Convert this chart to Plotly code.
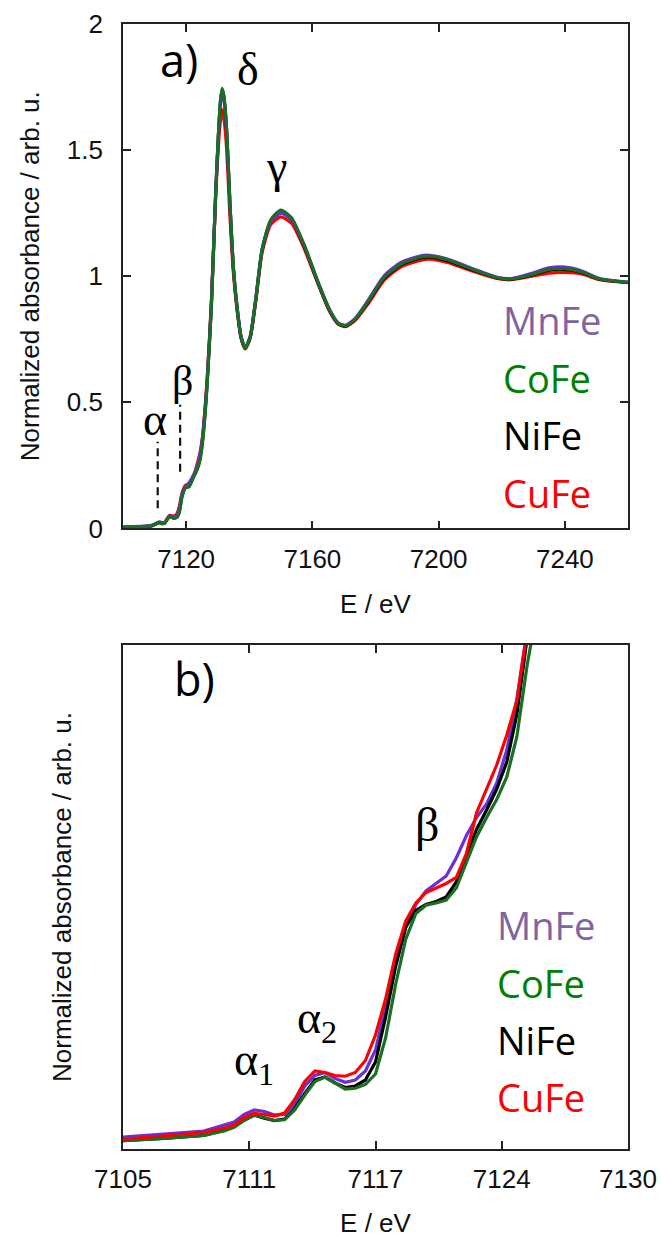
import plotly.graph_objects as go

# ---------------- data: panel a) full XANES ----------------
E_top = [7100, 7105, 7109, 7111.5, 7112.5, 7113.2, 7114.8, 7116.1, 7117.1, 7117.8,
         7118.7, 7119.7, 7120.9, 7122.2, 7123.5, 7124.4, 7125.2, 7126, 7126.7, 7128,
         7129.4, 7130.3, 7130.9, 7131.4, 7131.9, 7132.7, 7134, 7135, 7136.1, 7137.4,
         7138.7, 7140.3, 7142.1, 7144.1, 7146.8, 7150, 7153.4, 7157.4, 7161.4, 7165.4,
         7168.1, 7170.5, 7173.5, 7177.5, 7182.8, 7188.2, 7194.8, 7197, 7202.8, 7210.8,
         7218.9, 7223, 7229.6, 7235, 7240, 7245.6, 7251, 7260]

top_CoFe = [0.003, 0.006, 0.010, 0.023, 0.019, 0.021, 0.048, 0.040, 0.044, 0.060,
            0.124, 0.160, 0.165, 0.199, 0.233, 0.270, 0.340, 0.450, 0.578, 0.882,
            1.338, 1.580, 1.700, 1.745, 1.720, 1.612, 1.262, 1.030, 0.882, 0.760,
            0.715, 0.760, 0.913, 1.110, 1.224, 1.262, 1.232, 1.125, 0.989, 0.867,
            0.814, 0.803, 0.829, 0.897, 0.996, 1.049, 1.077, 1.080, 1.065, 1.027,
            0.993, 0.989, 1.007, 1.027, 1.030, 1.016, 0.989, 0.976]

top_NiFe = [0.003, 0.006, 0.010, 0.023, 0.019, 0.021, 0.048, 0.041, 0.046, 0.065,
            0.130, 0.161, 0.167, 0.202, 0.238, 0.280, 0.350, 0.460, 0.585, 0.888,
            1.340, 1.578, 1.695, 1.740, 1.715, 1.605, 1.258, 1.028, 0.880, 0.758,
            0.714, 0.758, 0.910, 1.105, 1.218, 1.255, 1.226, 1.120, 0.986, 0.865,
            0.813, 0.802, 0.828, 0.895, 0.993, 1.046, 1.074, 1.077, 1.062, 1.025,
            0.992, 0.988, 1.005, 1.024, 1.027, 1.014, 0.988, 0.975]

top_MnFe = [0.006, 0.008, 0.012, 0.026, 0.023, 0.024, 0.051, 0.045, 0.052, 0.075,
            0.136, 0.165, 0.180, 0.209, 0.244, 0.295, 0.360, 0.470, 0.590, 0.890,
            1.340, 1.575, 1.690, 1.730, 1.705, 1.598, 1.255, 1.028, 0.882, 0.762,
            0.717, 0.762, 0.915, 1.108, 1.216, 1.250, 1.224, 1.122, 0.990, 0.869,
            0.816, 0.805, 0.832, 0.902, 1.003, 1.056, 1.082, 1.083, 1.068, 1.030,
            0.995, 0.991, 1.012, 1.033, 1.036, 1.020, 0.991, 0.977]

top_CuFe = [0.004, 0.007, 0.011, 0.024, 0.022, 0.024, 0.052, 0.049, 0.059, 0.085,
            0.140, 0.170, 0.177, 0.200, 0.256, 0.300, 0.365, 0.480, 0.600, 0.900,
            1.330, 1.530, 1.620, 1.660, 1.630, 1.530, 1.210, 1.010, 0.870, 0.755,
            0.712, 0.755, 0.905, 1.095, 1.205, 1.235, 1.210, 1.110, 0.982, 0.862,
            0.811, 0.800, 0.824, 0.888, 0.985, 1.038, 1.065, 1.068, 1.055, 1.020,
            0.990, 0.986, 1.000, 1.012, 1.015, 1.008, 0.986, 0.974]

# ---------------- data: panel b) pre-edge zoom ----------------
E_bot = [7105, 7106, 7107, 7108, 7109, 7110, 7110.5, 7111, 7111.5, 7112,
         7112.5, 7113, 7113.5, 7114, 7114.5, 7115, 7115.5, 7116, 7116.5, 7117,
         7117.5, 7118, 7118.5, 7119, 7119.5, 7120, 7120.5, 7121, 7121.5, 7122,
         7122.5, 7123, 7123.5, 7124, 7124.5, 7125, 7125.5]

bot_MnFe = [0.008, 0.009, 0.0105, 0.011, 0.012, 0.016, 0.018, 0.023, 0.026, 0.025,
            0.0227, 0.023, 0.030, 0.042, 0.049, 0.051, 0.047, 0.0445, 0.046, 0.052,
            0.066, 0.095, 0.125, 0.148, 0.163, 0.172, 0.177, 0.182, 0.194, 0.209,
            0.221, 0.230, 0.244, 0.266, 0.300, 0.345, 0.390]

bot_CoFe = [0.0055, 0.006, 0.007, 0.008, 0.009, 0.012, 0.0145, 0.019, 0.0227, 0.021,
            0.019, 0.0195, 0.026, 0.036, 0.045, 0.048, 0.044, 0.040, 0.0405, 0.043,
            0.050, 0.074, 0.110, 0.140, 0.157, 0.1625, 0.164, 0.166, 0.174, 0.191,
            0.208, 0.221, 0.233, 0.248, 0.275, 0.322, 0.360]

bot_NiFe = [0.0055, 0.006, 0.007, 0.008, 0.009, 0.0125, 0.015, 0.0195, 0.0225, 0.0205,
            0.019, 0.020, 0.027, 0.037, 0.046, 0.048, 0.044, 0.041, 0.042, 0.046,
            0.058, 0.088, 0.122, 0.148, 0.159, 0.163, 0.165, 0.168, 0.178, 0.196,
            0.213, 0.226, 0.240, 0.258, 0.290, 0.340, 0.380]

bot_CuFe = [0.0065, 0.0075, 0.0085, 0.0095, 0.011, 0.014, 0.016, 0.021, 0.0238, 0.023,
            0.022, 0.024, 0.033, 0.045, 0.052, 0.051, 0.049, 0.0485, 0.051, 0.059,
            0.076, 0.100, 0.130, 0.152, 0.164, 0.171, 0.174, 0.177, 0.181, 0.197,
            0.224, 0.240, 0.256, 0.276, 0.299, 0.345, 0.390]

# pre-edge marker lines in panel a)
mark_E = [7111.0, 7118.1]
mark_y0 = [0.08, 0.225]
mark_y1 = [0.344, 0.49]

top_xticks = [7120, 7160, 7200, 7240]
top_yticks = [0, 0.5, 1, 1.5, 2]
bot_xtickvals = [7105, 7111.25, 7117.5, 7123.75, 7130]
bot_xticktext = ["7105", "7111", "7117", "7124", "7130"]

names = ["MnFe", "CoFe", "NiFe", "CuFe"]
line_col = {"MnFe": "#6B2FD9", "CoFe": "#1B6E24", "NiFe": "#000000", "CuFe": "#FF0000"}
text_col = {"MnFe": "#8064A2", "CoFe": "#008000", "NiFe": "#000000", "CuFe": "#FF0000"}

top_series = {"MnFe": top_MnFe, "CoFe": top_CoFe, "NiFe": top_NiFe, "CuFe": top_CuFe}
bot_series = {"MnFe": bot_MnFe, "CoFe": bot_CoFe, "NiFe": bot_NiFe, "CuFe": bot_CuFe}

fig = go.Figure()

for n in ["CuFe", "NiFe", "MnFe", "CoFe"]:
    fig.add_trace(go.Scatter(x=E_top, y=top_series[n], mode="lines", name=n,
                             line=dict(color=line_col[n], width=3.2, shape="spline", smoothing=0.6),
                             xaxis="x", yaxis="y", showlegend=False))

for i in range(len(mark_E)):
    fig.add_trace(go.Scatter(x=[mark_E[i], mark_E[i]], y=[mark_y0[i], mark_y1[i]], mode="lines",
                             line=dict(color="#111111", width=2.2, dash="8px,5px"),
                             xaxis="x", yaxis="y", showlegend=False))

for n in ["MnFe", "NiFe", "CoFe", "CuFe"]:
    fig.add_trace(go.Scatter(x=E_bot, y=bot_series[n], mode="lines", name=n,
                             line=dict(color=line_col[n], width=3.2),
                             xaxis="x2", yaxis="y2", showlegend=False))

frame = "#222222"
tickfont = dict(family="Liberation Sans, Arial, sans-serif", size=26, color="#111111")
titlefont = dict(family="Liberation Sans, Arial, sans-serif", size=26, color="#111111")

common = dict(showgrid=False, zeroline=False, automargin=False,
              showline=True, linecolor=frame, linewidth=1.8)

fig.update_layout(
    width=661, height=1241,
    margin=dict(l=123, r=33, t=24, b=92),
    paper_bgcolor="white", plot_bgcolor="white",
    xaxis=dict(domain=[0, 1], anchor="y", range=[7100, 7260], tickvals=top_xticks,
               ticks="inside", ticklen=8, tickwidth=1.5, tickcolor=frame, mirror="ticks",
               tickfont=tickfont, ticklabelstandoff=6,
               title=dict(text="E / eV", font=titlefont, standoff=22), **common),
    yaxis=dict(domain=[0.5516, 1], anchor="x", range=[0, 2], tickvals=top_yticks,
               ticks="inside", ticklen=8, tickwidth=1.5, tickcolor=frame, mirror="ticks",
               tickfont=tickfont, ticklabelstandoff=13,
               title=dict(text="Normalized absorbance / arb. u.", font=titlefont, standoff=20),
               **common),
    xaxis2=dict(domain=[0, 1], anchor="y2", range=[7105, 7130], tickvals=bot_xtickvals,
                ticktext=bot_xticktext,
                ticks="inside", ticklen=8, tickwidth=1.5, tickcolor=frame, mirror="ticks",
                tickfont=tickfont, ticklabelstandoff=6,
                title=dict(text="E / eV", font=titlefont, standoff=21), **common),
    yaxis2=dict(domain=[0, 0.448], anchor="x2", range=[0, 0.336],
                ticks="", showticklabels=False, mirror=True,
                title=dict(text="Normalized absorbance / arb. u.", font=titlefont, standoff=42),
                **common),
)

serif = "Liberation Serif"
sans = "Open Sans, sans-serif"
ann = []
# panel a) labels
ann.append(dict(x=7117.7, y=1.835, xref="x", yref="y", text="a)", showarrow=False, yshift=6,
                font=dict(family=sans, size=45, color="black")))
ann.append(dict(x=7139.5, y=1.813, xref="x", yref="y", text="δ", showarrow=False, yshift=2,
                font=dict(family=serif, size=46, color="black")))
ann.append(dict(x=7148.6, y=1.407, xref="x", yref="y", text="γ", showarrow=False, yshift=7,
                font=dict(family=serif, size=46, color="black")))
ann.append(dict(x=7119.0, y=0.587, xref="x", yref="y", text="β", showarrow=False, yshift=-1,
                font=dict(family=serif, size=42, color="black")))
ann.append(dict(x=7110.05, y=0.419, xref="x", yref="y", text="α", showarrow=False, yshift=3,
                font=dict(family=serif, size=46, color="black")))
# panel b) labels
ann.append(dict(x=7108.55, y=0.311, xref="x2", yref="y2", text="b)", showarrow=False, yshift=4,
                font=dict(family=sans, size=45, color="black")))
ann.append(dict(x=7111.5, y=0.055, xref="x2", yref="y2", text="α<sub>1</sub>", showarrow=False,
                yshift=4, font=dict(family=serif, size=46, color="black")))
ann.append(dict(x=7114.6, y=0.083, xref="x2", yref="y2", text="α<sub>2</sub>", showarrow=False,
                yshift=4, font=dict(family=serif, size=46, color="black")))
ann.append(dict(x=7120.05, y=0.214, xref="x2", yref="y2", text="β", showarrow=False, yshift=4,
                font=dict(family=serif, size=48, color="black")))

# sample-name labels
top_lab_y = [0.822, 0.593, 0.365, 0.137]
bot_lab_y = [0.1487, 0.110, 0.072, 0.0337]
for n, yv in zip(names, top_lab_y):
    ann.append(dict(x=7219.7, y=yv, xref="x", yref="y", text=n, showarrow=False, yshift=1,
                    xanchor="left", font=dict(family=sans, size=38, color=text_col[n])))
for n, yv in zip(names, bot_lab_y):
    ann.append(dict(x=7123.4, y=yv, xref="x2", yref="y2", text=n, showarrow=False, yshift=1,
                    xanchor="left", font=dict(family=sans, size=38, color=text_col[n])))

fig.update_layout(annotations=ann)
fig.write_html("out.html", config={"displayModeBar": False},
               post_script="document.body.style.margin='0';")
